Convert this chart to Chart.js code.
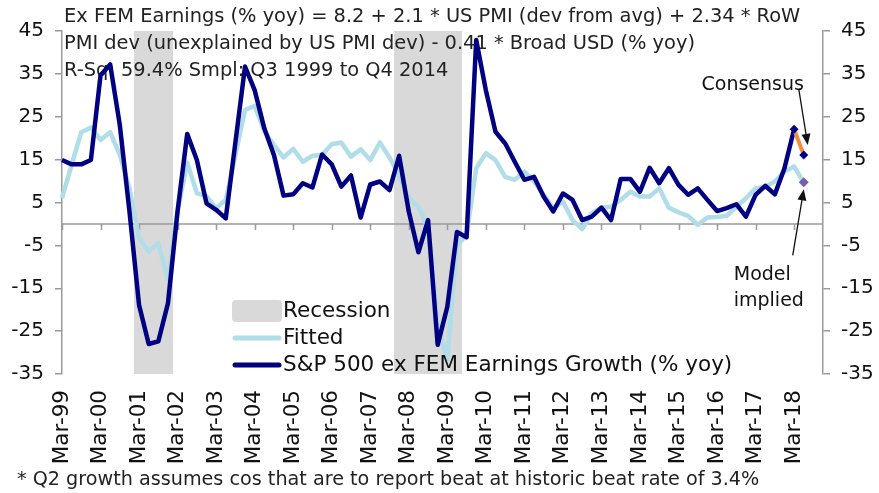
<!DOCTYPE html>
<html>
<head>
<meta charset="utf-8">
<script src="https://cdn.jsdelivr.net/npm/chart.js@4"></script>
<style>
  html, body { margin: 0; padding: 0; background: #fff; }
  #wrap { width: 879px; height: 493px; }
</style>
</head>
<body>
<div id="wrap"><canvas id="chart" width="879" height="493"></canvas></div>
<script>
// quarterly categories, Mar-99 .. Dec-18
const years = [];
for (let y = 1999; y <= 2018; y++) years.push(y);
const months = ['Mar', 'Jun', 'Sep', 'Dec'];
const quarters = [];
years.forEach(y => months.forEach(m => quarters.push(m + '-' + String(y).slice(2))));

const recessionQuarters = ['Mar-01', 'Jun-01', 'Sep-01', 'Dec-01',
    'Dec-07', 'Mar-08', 'Jun-08', 'Sep-08', 'Dec-08', 'Mar-09', 'Jun-09'];

// S&P 500 ex FEM earnings growth (% yoy), Mar-99 .. Mar-18
const actual = [
    14.9, 13.9, 13.9, 14.9, 34.7, 37.2, 23.1, 3.0, -18.9, -28.0,
    -27.4, -18.5, 3.0, 21.0, 14.9, 4.8, 3.3, 1.3, 19.0, 36.7,
    31.2, 22.3, 16.1, 6.6, 6.9, 9.5, 8.5, 16.2, 13.9, 8.7,
    11.3, 1.5, 9.2, 9.9, 7.9, 15.9, 2.9, -6.6, 0.9, -28.2,
    -19.3, -1.9, -3.1, 42.9, 31.2, 21.5, 18.8, 14.5, 10.3, 11.0,
    6.4, 2.9, 7.1, 5.6, 0.9, 1.7, 3.8, 0.9, 10.5, 10.5,
    7.5, 13.1, 9.5, 13.0, 9.1, 6.8, 8.3, 5.6, 3.0, 3.7,
    4.6, 1.7, 6.8, 8.9, 6.9, 13.0, 22.1
];

// Fitted, Mar-99 .. Jun-18 (last point = model implied)
const fitted = [
    6.0, 13.8, 21.4, 22.5, 19.6, 21.4, 16.1, 8.3, -3.3, -6.4,
    -4.5, -13.1, 3.0, 14.3, 7.2, 6.5, 3.7, 5.6, 16.0, 26.6,
    27.5, 21.7, 18.4, 15.5, 17.5, 14.5, 15.9, 16.1, 18.6, 19.0,
    15.7, 17.4, 14.9, 19.0, 15.5, 11.4, 6.0, 4.0, -1.0, -24.0,
    -31.5, -5.0, -2.6, 13.0, 16.5, 14.9, 11.0, 10.3, 12.2, 9.9,
    6.8, 3.7, 5.2, 0.9, -1.2, 2.5, 3.8, 4.0, 5.6, 7.5,
    6.4, 6.4, 8.3, 3.8, 2.7, 1.9, -0.2, 1.5, 1.6, 1.9,
    4.0, 6.0, 8.3, 8.7, 9.9, 12.2, 13.4, 9.7
];

// Consensus: Mar-18 actual -> Jun-18 consensus
const consensusQuarters = ['Mar-18', 'Jun-18'];
const consensusValues = [22.1, 16.1];
const modelQuarter = 'Jun-18';
const modelValue = 9.7;

const yTicks = { min: -35, max: 45, step: 10 };

const NAVY = '#000080';
const LIGHT = '#b0dde8';
const GREY = '#d9d9d9';
const AXIS = '#9a9a9a';
const FONT = "'DejaVu Sans', sans-serif";

const recessionData = quarters.map(q => recessionQuarters.includes(q) ? [yTicks.min, yTicks.max] : null);
const consensusData = quarters.map(q => {
    const k = consensusQuarters.indexOf(q);
    return k >= 0 ? consensusValues[k] : null;
});
const modelData = quarters.map(q => q === modelQuarter ? modelValue : null);

function arrow(ctx, x1, y1, x2, y2) {
    const a = Math.atan2(y2 - y1, x2 - x1);
    const len = 11, w = 4.5;
    ctx.beginPath();
    ctx.moveTo(x1, y1);
    ctx.lineTo(x2 - Math.cos(a) * len * 0.8, y2 - Math.sin(a) * len * 0.8);
    ctx.stroke();
    ctx.beginPath();
    ctx.moveTo(x2, y2);
    ctx.lineTo(x2 - Math.cos(a) * len - Math.sin(a) * w, y2 - Math.sin(a) * len + Math.cos(a) * w);
    ctx.lineTo(x2 - Math.cos(a) * len + Math.sin(a) * w, y2 - Math.sin(a) * len - Math.cos(a) * w);
    ctx.closePath();
    ctx.fill();
}

const decor = {
    id: 'decor',
    afterDatasetDraw(chart, args) {
        if (args.meta.type !== 'bar') return;
        const ctx = chart.ctx;
        const x = chart.scales.x, y = chart.scales.y;
        const area = chart.chartArea;
        const y0 = y.getPixelForValue(0);
        ctx.save();
        // zero axis with tick marks every year
        ctx.strokeStyle = AXIS;
        ctx.lineWidth = 1.5;
        ctx.beginPath();
        ctx.moveTo(area.left, y0);
        ctx.lineTo(area.right, y0);
        for (let i = 0; i < quarters.length; i += 4) {
            const px = Math.round(x.getPixelForValue(i)) + 0.5;
            ctx.moveTo(px, y0);
            ctx.lineTo(px, y0 + 6);
        }
        ctx.stroke();
        // regression text
        ctx.fillStyle = '#222';
        ctx.font = '19.4px ' + FONT;
        ctx.textBaseline = 'alphabetic';
        ctx.textAlign = 'left';
        ctx.fillText('Ex FEM Earnings (% yoy) = 8.2 + 2.1 * US PMI (dev from avg) + 2.34 * RoW', 64, 22);
        ctx.fillText('PMI dev (unexplained by US PMI dev) - 0.41 * Broad USD (% yoy)', 64, 49);
        ctx.fillText('R-Sq: 59.4% Smpl: Q3 1999 to Q4 2014', 64, 76);
        ctx.restore();
    },
    afterDraw(chart) {
        const ctx = chart.ctx;
        const x = chart.scales.x, y = chart.scales.y;
        ctx.save();
        // legend
        ctx.fillStyle = GREY;
        ctx.beginPath();
        ctx.roundRect(232, 300, 50, 22, 4);
        ctx.fill();
        ctx.lineWidth = 5;
        ctx.lineCap = 'round';
        ctx.strokeStyle = LIGHT;
        ctx.beginPath(); ctx.moveTo(235, 338); ctx.lineTo(279, 338); ctx.stroke();
        ctx.strokeStyle = NAVY;
        ctx.beginPath(); ctx.moveTo(235, 365); ctx.lineTo(279, 365); ctx.stroke();
        ctx.fillStyle = '#111';
        ctx.font = '21.5px ' + FONT;
        ctx.textBaseline = 'middle';
        ctx.fillText('Recession', 283, 311);
        ctx.fillText('Fitted', 283, 338);
        ctx.fillText('S&P 500 ex FEM Earnings Growth (% yoy)', 283, 365);

        // annotations
        const xe = x.getPixelForValue(quarters.indexOf(modelQuarter));
        const yc = y.getPixelForValue(consensusValues[1]);
        const ym = y.getPixelForValue(modelValue);
        ctx.font = '19px ' + FONT;
        ctx.textAlign = 'center';
        ctx.fillStyle = '#111';
        ctx.fillText('Consensus', xe - 51, yc - 70);
        ctx.textAlign = 'left';
        ctx.fillText('Model', xe - 70, ym + 93);
        ctx.fillText('implied', xe - 70, ym + 119);
        ctx.strokeStyle = '#111';
        ctx.fillStyle = '#111';
        ctx.lineWidth = 1.3;
        ctx.lineCap = 'butt';
        arrow(ctx, xe - 5, yc - 66, xe + 4, yc - 10);
        arrow(ctx, xe - 11, ym + 73, xe, ym + 7);

        // footnote
        ctx.font = '19.2px ' + FONT;
        ctx.textBaseline = 'alphabetic';
        ctx.fillStyle = '#222';
        ctx.fillText('* Q2 growth assumes cos that are to report beat at historic beat rate of 3.4%', 17, 485);
        ctx.restore();
    }
};

const yAxis = (pos, width) => ({
    type: 'linear',
    position: pos,
    min: yTicks.min,
    max: yTicks.max,
    ticks: { stepSize: yTicks.step, color: '#111', font: { size: 20 }, padding: 11 },
    grid: { drawOnChartArea: false, drawTicks: true, tickLength: 7, color: AXIS, lineWidth: 1.5 },
    border: { display: true, color: AXIS, width: 1.5 },
    afterFit: s => { s.width = width; }
});

Chart.defaults.font.family = FONT;

new Chart(document.getElementById('chart'), {
    data: {
        labels: quarters,
        datasets: [
            {
                type: 'bar', label: 'Recession', data: recessionData,
                backgroundColor: GREY, barPercentage: 1, categoryPercentage: 1,
                order: 10, yAxisID: 'y'
            },
            {
                type: 'line', label: 'Fitted', data: fitted,
                borderColor: LIGHT, borderWidth: 4.5, pointRadius: 0,
                tension: 0, borderJoinStyle: 'round', order: 3, yAxisID: 'y'
            },
            {
                type: 'line', label: 'S&P 500 ex FEM Earnings Growth (% yoy)', data: actual,
                borderColor: NAVY, borderWidth: 4.5, pointRadius: 0,
                tension: 0, borderJoinStyle: 'round', order: 2, yAxisID: 'y'
            },
            {
                type: 'line', label: 'Consensus', data: consensusData,
                borderColor: '#f28e3f', borderWidth: 4, tension: 0,
                pointStyle: 'rectRot', pointRadius: 4.5, pointBorderWidth: 0,
                pointBackgroundColor: NAVY, order: 1, yAxisID: 'y'
            },
            {
                type: 'line', label: 'Model implied', data: modelData, showLine: false,
                pointStyle: 'rectRot', pointRadius: 5, pointBorderWidth: 0,
                pointBackgroundColor: '#7b5ea7', order: 0, yAxisID: 'y'
            }
        ]
    },
    options: {
        responsive: false,
        animation: false,
        layout: { padding: { top: 31, left: 0, right: 0, bottom: 0 } },
        plugins: { legend: { display: false }, tooltip: { enabled: false } },
        scales: {
            x: {
                type: 'category',
                offset: false,
                grid: { display: false, drawTicks: false },
                border: { display: false },
                ticks: {
                    autoSkip: false, minRotation: 90, maxRotation: 90, padding: 16,
                    color: '#111', font: { size: 21.5 },
                    callback: (v, i) => i % 4 === 0 ? quarters[i] : ''
                },
                afterFit: s => { s.height = 119; }
            },
            y: yAxis('left', 62),
            y2: yAxis('right', 56)
        }
    },
    plugins: [decor]
});
</script>
</body>
</html>
